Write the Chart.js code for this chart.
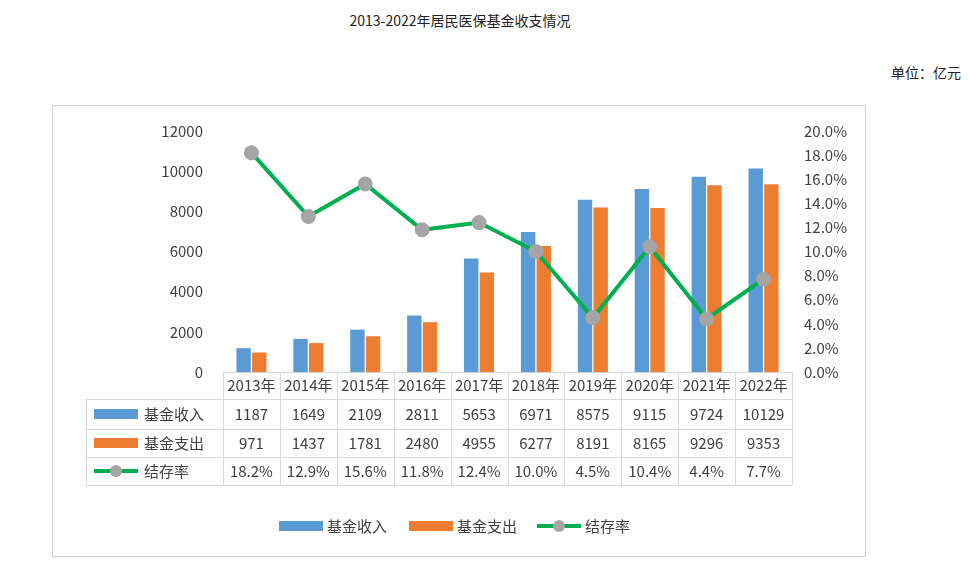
<!DOCTYPE html>
<html>
<head>
<meta charset="UTF-8">
<script src="https://cdn.jsdelivr.net/npm/chart.js"></script>
<style>
  body { margin:0; width:969px; height:571px; background:#fff; font-family:'Noto Sans CJK SC','Noto Sans',sans-serif; position:relative; overflow:hidden; }
  .title { position:absolute; top:10px; left:0; width:920px; text-align:center; font-size:14px; color:#222; }
  .unit { position:absolute; top:62px; right:8px; font-size:14px; color:#222; }
  .box { position:absolute; left:52px; top:105px; width:814px; height:452px; border:1px solid #d0d0d0; box-sizing:border-box; }
  canvas { position:absolute; left:0; top:0; }
</style>
</head>
<body>
<div class="title">2013-2022年居民医保基金收支情况</div>
<div class="unit">单位：亿元</div>
<div class="box"><canvas id="c" width="812" height="450"></canvas></div>
<script>
const years = ['2013年','2014年','2015年','2016年','2017年','2018年','2019年','2020年','2021年','2022年'];
const income = [1187, 1649, 2109, 2811, 5653, 6971, 8575, 9115, 9724, 10129];
const expense = [971, 1437, 1781, 2480, 4955, 6277, 8191, 8165, 9296, 9353];
const rate = [18.2, 12.9, 15.6, 11.8, 12.4, 10.0, 4.5, 10.4, 4.4, 7.7];
const leftTicks = [0, 2000, 4000, 6000, 8000, 10000, 12000];

const BLUE = '#5B9BD5', ORANGE = '#ED7D31', GREEN = '#00B050', GRAY = '#A5A5A5';
const FONT = "'Noto Sans CJK SC','Noto Sans',sans-serif";

const tablePlugin = {
  id: 'table',
  afterDraw(chart) {
    const ctx = chart.ctx, x = chart.scales.x, area = chart.chartArea;
    const colW = (area.right - area.left) / years.length;
    const left0 = 33, top = area.bottom, rowH = [27, 30, 28, 28];
    const ys = [top]; rowH.forEach(h => ys.push(ys[ys.length - 1] + h));
    ctx.save();
    ctx.strokeStyle = '#d9d9d9'; ctx.lineWidth = 1;
    ys.forEach((y, i) => {
      ctx.beginPath();
      ctx.moveTo(i === 0 ? area.left : left0, y + 0.5);
      ctx.lineTo(area.right, y + 0.5); ctx.stroke();
    });
    for (let i = 0; i <= years.length; i++) {
      const vx = Math.round(area.left + i * colW) + 0.5;
      ctx.beginPath(); ctx.moveTo(vx, ys[0]); ctx.lineTo(vx, ys[4]); ctx.stroke();
    }
    ctx.beginPath(); ctx.moveTo(left0 + 0.5, ys[1]); ctx.lineTo(left0 + 0.5, ys[4]); ctx.stroke();
    ctx.fillStyle = '#404040'; ctx.font = '15px ' + FONT;
    ctx.textAlign = 'center'; ctx.textBaseline = 'middle';
    const rows = [years, income.map(String), expense.map(String), rate.map(v => v.toFixed(1) + '%')];
    rows.forEach((r, ri) => {
      const cy = (ys[ri] + ys[ri + 1]) / 2;
      r.forEach((t, i) => ctx.fillText(t, x.getPixelForValue(i), cy));
    });
    const heads = [['基金收入', 'bar', BLUE], ['基金支出', 'bar', ORANGE], ['结存率', 'line']];
    heads.forEach((h, i) => {
      const cy = (ys[i + 1] + ys[i + 2]) / 2;
      drawKey(ctx, left0 + 8, cy, h[1], h[2]);
      ctx.fillStyle = '#404040'; ctx.textAlign = 'left';
      ctx.fillText(h[0], left0 + 58, cy);
    });
    const ly = 420;
    const items = [['基金收入', 'bar', BLUE, 226], ['基金支出', 'bar', ORANGE, 356], ['结存率', 'line', null, 484]];
    items.forEach(it => {
      drawKey(ctx, it[3], ly, it[1], it[2]);
      ctx.fillStyle = '#404040'; ctx.textAlign = 'left';
      ctx.fillText(it[0], it[3] + 48, ly);
    });
    ctx.restore();
  }
};
function drawKey(ctx, x, cy, type, color) {
  if (type === 'bar') {
    ctx.fillStyle = color; ctx.fillRect(x, cy - 5, 44, 10);
  } else {
    ctx.strokeStyle = GREEN; ctx.lineWidth = 4;
    ctx.beginPath(); ctx.moveTo(x, cy); ctx.lineTo(x + 44, cy); ctx.stroke();
    ctx.fillStyle = GRAY; ctx.beginPath(); ctx.arc(x + 22, cy, 6, 0, Math.PI * 2); ctx.fill();
    ctx.strokeStyle = '#d9d9d9'; ctx.lineWidth = 1;
  }
}

new Chart(document.getElementById('c'), {
  data: {
    labels: years,
    datasets: [
      { type: 'line', label: '结存率', data: rate, yAxisID: 'y1', borderColor: GREEN, borderWidth: 4,
        pointRadius: 5.5, pointBackgroundColor: GRAY, pointBorderColor: GRAY, tension: 0, order: 0 },
      { type: 'bar', label: '基金收入', data: income, backgroundColor: BLUE, yAxisID: 'y',
        categoryPercentage: 0.55, barPercentage: 0.92, order: 1 },
      { type: 'bar', label: '基金支出', data: expense, backgroundColor: ORANGE, yAxisID: 'y',
        categoryPercentage: 0.55, barPercentage: 0.92, order: 1 }
    ]
  },
  options: {
    responsive: false, animation: false,
    layout: { padding: { left: 100, right: 8, top: 25, bottom: 0 } },
    plugins: { legend: { display: false }, tooltip: { enabled: false } },
    scales: {
      x: { grid: { display: false }, border: { display: false }, ticks: { display: false },
           afterFit(s) { s.height = 184; } },
      y: { min: 0, max: 12000, position: 'left', grid: { display: false }, border: { display: false },
           afterBuildTicks(s) { s.ticks = leftTicks.map(v => ({ value: v })); },
           ticks: { color: '#404040', font: { size: 15, family: FONT }, padding: 12, callback: v => String(v) },
           afterFit(s) { s.width = 70; } },
      y1: { min: 0, max: 20, position: 'right', grid: { display: false }, border: { display: false },
            ticks: { stepSize: 2, color: '#404040', font: { size: 15, family: FONT }, padding: 4,
                     callback: v => v.toFixed(1) + '%' },
            afterFit(s) { s.width = 65; } }
    }
  },
  plugins: [tablePlugin]
});
</script>
</body>
</html>
